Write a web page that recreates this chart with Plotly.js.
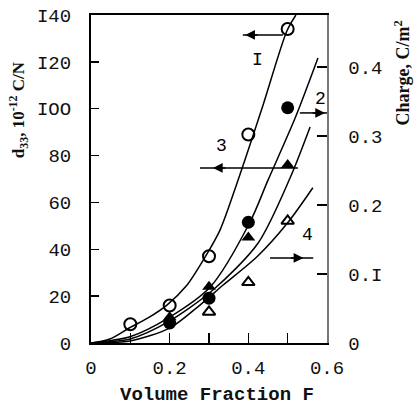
<!DOCTYPE html>
<html>
<head>
<meta charset="utf-8">
<script src="https://cdn.plot.ly/plotly-3.0.1.min.js"></script>
<style>html,body{margin:0;padding:0;background:#fff;}#chart{width:415px;height:405px;}</style>
</head>
<body>
<div id="chart"></div>
<script>
// Measured points (volume fraction F)
var F_pts = [0.1, 0.2, 0.3, 0.4, 0.5];
var d33_open_circle = [8, 16, 37, 89, 134];          // curve I, d33 (10^-12 C/N)
var F_pts2 = [0.2, 0.3, 0.4, 0.5];
var charge_filled_circle = [0.029, 0.065, 0.175, 0.341]; // curve 2, charge (C/m^2)
var d33_filled_triangle = [11, 24, 45, 76];          // curve 3, d33
var F_pts4 = [0.3, 0.4, 0.5];
var charge_open_triangle = [0.045, 0.088, 0.177];     // curve 4, charge

// Hand-drawn fit curves
var curve1_F = [0, 0.048, 0.097, 0.145, 0.193, 0.242, 0.29, 0.328, 0.374, 0.435, 0.498, 0.521];
var curve1_d33 = [0, 1.7, 6.4, 10.7, 16.2, 24.3, 36.7, 48.2, 69.6, 100.3, 133.2, 140];
var curve2_F = [0, 0.099, 0.196, 0.303, 0.404, 0.45, 0.519, 0.577];
var curve2_charge = [0, 0.009, 0.036, 0.081, 0.175, 0.236, 0.326, 0.413];
var curve3_F = [0, 0.099, 0.196, 0.31, 0.425, 0.506, 0.557];
var curve3_d33 = [0, 1.7, 9.0, 22.6, 42.7, 70.4, 92.2];
var curve4_F = [0, 0.099, 0.201, 0.277, 0.336, 0.422, 0.501, 0.564];
var curve4_charge = [0, 0.003, 0.022, 0.055, 0.084, 0.125, 0.175, 0.225];

// Axis ticks
var xTickVals = [0, 0.1, 0.2, 0.3, 0.4, 0.5, 0.6];
var xTickText = ['0', '', '0.2', '', '0.4', '', '0.6'];
var yTickVals = [0, 20, 40, 60, 80, 100, 120, 140];
var yTickText = ['0', '20', '40', '60', '80', 'IOO', 'I20', 'I40'];
var y2TickVals = [0, 0.1, 0.2, 0.3, 0.4];
var y2TickText = ['0', '0.I', '0.2', '0.3', '0.4'];

var mono = '"Courier New", "Liberation Mono", monospace';
var serif = '"Liberation Serif", "Times New Roman", serif';
var lineStyle = {color: '#000', width: 1.5, shape: 'spline', smoothing: 0.8};
var tickFont = {family: mono, size: 19, color: '#111'};

var traces = [
  {x: curve1_F, y: curve1_d33, mode: 'lines', line: lineStyle, yaxis: 'y', hoverinfo: 'skip'},
  {x: curve2_F, y: curve2_charge, mode: 'lines', line: lineStyle, yaxis: 'y2', hoverinfo: 'skip'},
  {x: curve3_F, y: curve3_d33, mode: 'lines', line: lineStyle, yaxis: 'y', hoverinfo: 'skip'},
  {x: curve4_F, y: curve4_charge, mode: 'lines', line: lineStyle, yaxis: 'y2', hoverinfo: 'skip'},
  {x: F_pts, y: d33_open_circle, mode: 'markers', yaxis: 'y',
   marker: {symbol: 'circle-open', size: 12, color: '#000', line: {width: 2, color: '#000'}}},
  {x: F_pts2, y: charge_filled_circle, mode: 'markers', yaxis: 'y2',
   marker: {symbol: 'circle', size: 13, color: '#000'}},
  {x: F_pts2, y: d33_filled_triangle, mode: 'markers', yaxis: 'y',
   marker: {symbol: 'triangle-up', size: 12, color: '#000'}},
  {x: F_pts4, y: charge_open_triangle, mode: 'markers', yaxis: 'y2',
   marker: {symbol: 'triangle-up-open', size: 11, color: '#000', line: {width: 2, color: '#000'}}}
];

function arrowLine(x0, x1, y) {
  return {type: 'line', xref: 'x', yref: 'y', x0: x0, x1: x1, y0: y, y1: y, line: {color: '#000', width: 1.5}};
}
function arrowHead(x, y, dir) {
  return {x: x, y: y, xref: 'x', yref: 'y', text: '', showarrow: true, arrowhead: 2, arrowsize: 1.3,
          arrowwidth: 1.5, arrowcolor: '#000', ax: -dir * 14, ay: 0, standoff: 0};
}
function label(t, x, y) {
  return {x: x, y: y, xref: 'x', yref: 'y', text: t, showarrow: false,
          font: {family: mono, size: 18, color: '#000'}};
}

var layout = {
  width: 415, height: 405,
  margin: {l: 91, r: 88, t: 15, b: 62},
  paper_bgcolor: '#fff', plot_bgcolor: '#fff',
  showlegend: false,
  font: {family: mono, size: 17, color: '#111'},
  xaxis: {range: [0, 0.6], tickvals: xTickVals, ticktext: xTickText, ticks: 'inside', ticklen: 10,
          tickwidth: 1.5, tickcolor: '#000', showline: true, linewidth: 2, linecolor: '#000', mirror: true,
          showgrid: false, zeroline: false, ticklabelstandoff: 6, tickfont: tickFont},
  yaxis: {range: [0, 140], tickvals: yTickVals, ticktext: yTickText, ticks: 'inside', ticklen: 8,
          tickwidth: 1.5, tickcolor: '#000', showline: true, linewidth: 2, linecolor: '#000',
          showgrid: false, zeroline: false, ticklabelstandoff: 14, tickfont: tickFont},
  yaxis2: {range: [0, 0.4754], overlaying: 'y', side: 'right', tickvals: y2TickVals, ticktext: y2TickText,
           ticks: 'inside', ticklen: 10, tickwidth: 1.5, tickcolor: '#000', showline: true, linewidth: 1.5,
           linecolor: '#777', showgrid: false, zeroline: false, ticklabelstandoff: 16, tickfont: tickFont},
  shapes: [
    arrowLine(0.386, 0.488, 131.5),
    arrowLine(0.531, 0.6, 98.2),
    arrowLine(0.277, 0.526, 74.7),
    arrowLine(0.455, 0.565, 36.3)
  ],
  annotations: [
    arrowHead(0.392, 131.5, -1),
    arrowHead(0.595, 98.2, 1),
    arrowHead(0.31, 74.7, -1),
    arrowHead(0.54, 36.3, 1),
    label('I', 0.424, 121),
    label('2', 0.584, 104),
    label('3', 0.333, 84),
    label('4', 0.55, 46),
    {x: 0.534, y: -0.158, xref: 'paper', yref: 'paper', xanchor: 'center', yanchor: 'middle',
     text: '<b>Volume Fraction F</b>', showarrow: false, font: {family: mono, size: 19, color: '#111'}},
    {x: -0.309, y: 0.71, xref: 'paper', yref: 'paper', xanchor: 'center', yanchor: 'middle',
     text: '<b>d<sub>33</sub>, 10<sup>-12</sup> C/N</b>',
     showarrow: false, textangle: -90, font: {family: serif, size: 17, color: '#111'}},
    {x: 1.318, y: 0.822, xref: 'paper', yref: 'paper', xanchor: 'center', yanchor: 'middle',
     text: '<b>Charge, C/m<sup>2</sup></b>',
     showarrow: false, textangle: -90, font: {family: serif, size: 18, color: '#111'}}
  ]
};

Plotly.newPlot('chart', traces, layout, {displayModeBar: false, staticPlot: true});
</script>
</body>
</html>
